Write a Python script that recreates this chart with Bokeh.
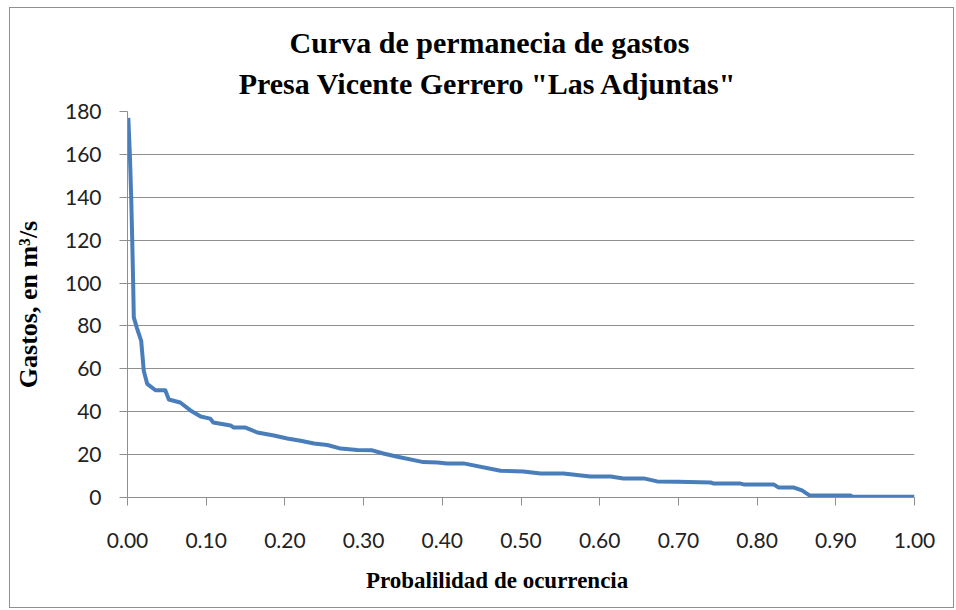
from bokeh.plotting import figure
from bokeh.models import Range1d, FixedTicker, Title, NumeralTickFormatter
from bokeh.embed import file_html
from bokeh.resources import INLINE

# ---- data ----
prob = [0.001, 0.003, 0.0047, 0.006, 0.0072, 0.008, 0.012, 0.0174, 0.0207, 0.025,
        0.0356, 0.048, 0.0525, 0.067, 0.080, 0.093, 0.105, 0.109, 0.131, 0.135,
        0.150, 0.165, 0.186, 0.203, 0.220, 0.237, 0.254, 0.271, 0.292, 0.311,
        0.325, 0.343, 0.376, 0.394, 0.406, 0.427, 0.474, 0.503, 0.525, 0.554,
        0.588, 0.614, 0.630, 0.656, 0.673, 0.699, 0.741, 0.745, 0.779, 0.783,
        0.821, 0.827, 0.846, 0.857, 0.867, 0.919, 0.921, 1.0]
flow = [177, 160, 140, 120, 100, 84, 79, 73, 59, 53,
        50, 50, 45.7, 44.3, 40.6, 37.8, 36.8, 35, 33.6, 32.6,
        32.6, 30.3, 28.9, 27.5, 26.5, 25.2, 24.5, 22.8, 22.2, 22.0,
        20.5, 19.0, 16.5, 16.3, 15.9, 15.9, 12.5, 12.1, 11.2, 11.2,
        9.8, 9.8, 8.9, 8.9, 7.5, 7.3, 7.0, 6.5, 6.5, 6.1,
        6.1, 4.7, 4.7, 3.3, 0.9, 0.9, 0.4, 0.3]

x_ticks = [0.0, 0.1, 0.2, 0.3, 0.4, 0.5, 0.6, 0.7, 0.8, 0.9, 1.0]
y_ticks = [0, 20, 40, 60, 80, 100, 120, 140, 160, 180]
title_lines = ["Curva de permanecia de gastos", 'Presa Vicente Gerrero "Las Adjuntas"']
x_label = "Probalilidad de ocurrencia"
y_label = "Gastos, en m³/s"

GRAY = "#8f8f8f"
SERIF = "Liberation Serif"

p = figure(width=945, height=601, output_backend="svg", toolbar_location=None,
           x_range=Range1d(0, 1), y_range=Range1d(0, 180),
           min_border_left=117, min_border_right=41,
           min_border_top=103, min_border_bottom=112)
p.styles = {"border": "1px solid " + GRAY, "margin-left": "9px", "margin-top": "7px"}
p.outline_line_color = None
p.background_fill_color = "white"
p.border_fill_color = "white"
p.title.visible = False

p.line(prob, flow, line_color="#4a7ebb", line_width=4, line_join="round")

p.xgrid.grid_line_color = None
p.ygrid.grid_line_color = GRAY
p.ygrid.grid_line_width = 1

p.xaxis.ticker = FixedTicker(ticks=x_ticks)
p.xaxis.formatter = NumeralTickFormatter(format="0.00")
p.yaxis.ticker = FixedTicker(ticks=y_ticks)

for ax in (p.xaxis[0], p.yaxis[0]):
    ax.axis_line_color = GRAY
    ax.major_tick_line_color = GRAY
    ax.minor_tick_line_color = None
    ax.major_tick_in = 0
    ax.major_tick_out = 8
    ax.major_label_text_font = "Lato"
    ax.major_label_text_font_size = "21px"
    ax.major_label_text_color = "#222222"

p.yaxis.major_label_standoff = 18
p.xaxis.major_label_standoff = 27

p.yaxis.axis_label = y_label
p.yaxis.axis_label_text_font = SERIF
p.yaxis.axis_label_text_font_style = "bold"
p.yaxis.axis_label_text_font_size = "26px"
p.yaxis.axis_label_text_color = "black"
p.yaxis.axis_label_standoff = 19


def serif_title(text, size_px, width_em, center_px, standoff):
    # left-aligned title shifted so that its centre falls at center_px from frame left
    off = center_px - width_em * size_px / 2.0
    return Title(text=text, align="left", offset=off, text_font=SERIF,
                 text_font_style="bold", text_font_size=f"{size_px}px",
                 text_color="black", standoff=standoff)


# titles above (last added is outermost)
p.add_layout(serif_title(title_lines[1], 30, 16.72, 362, 24), "above")
p.add_layout(serif_title(title_lines[0], 30, 13.33, 362, -12), "above")
# x-axis title below
p.add_layout(serif_title(x_label, 23, 11.445, 370, 31), "below")

open("out.html", "w").write(file_html(p, INLINE))
